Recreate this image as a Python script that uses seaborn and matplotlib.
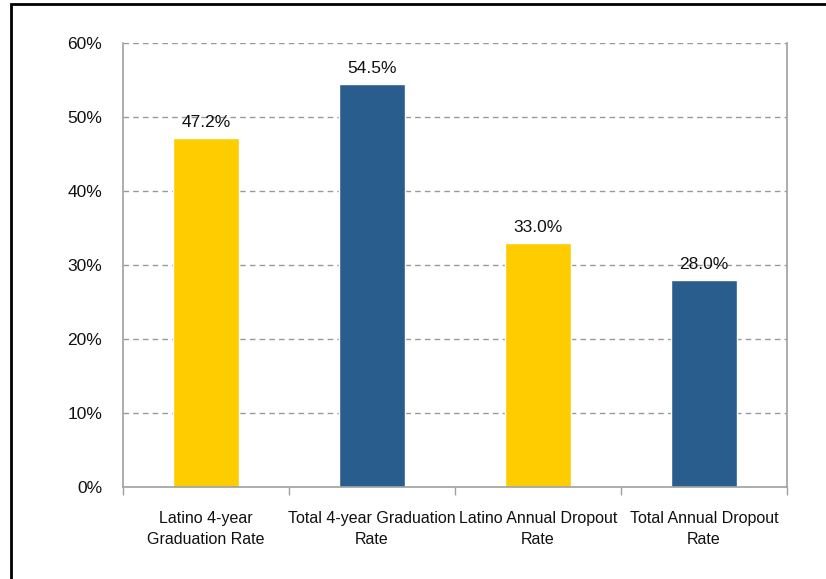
import matplotlib
matplotlib.use("Agg")
import matplotlib.pyplot as plt
import matplotlib.patches as mpatches
from matplotlib.ticker import PercentFormatter, FixedLocator
import pandas as pd
import seaborn as sns

# datos
categories = [
    "Latino 4-year\nGraduation Rate",
    "Total 4-year Graduation\nRate",
    "Latino Annual Dropout\nRate",
    "Total Annual Dropout\nRate",
]
rates = [0.472, 0.545, 0.330, 0.280]
labels = ["47.2%", "54.5%", "33.0%", "28.0%"]
bar_colors = ["#FFCC00", "#285D8E", "#FFCC00", "#285D8E"]

df = pd.DataFrame({"category": categories, "rate": rates})

sns.set_style("white")
plt.rcParams["font.family"] = ["Liberation Sans", "DejaVu Sans"]

fig = plt.figure(figsize=(8.26, 5.79), dpi=100)
ax = fig.add_axes([123 / 826, 1 - 487 / 579, (787 - 123) / 826, (487 - 43) / 579])

sns.barplot(data=df, x="category", y="rate", hue="category", palette=bar_colors,
            legend=False, width=0.4, saturation=1, ax=ax)

for p, lab in zip(ax.patches, labels):
    ax.text(p.get_x() + p.get_width() / 2, p.get_height() + 0.011, lab,
            ha="center", va="bottom", fontsize=12.5, color="#111111")

ax.set_ylim(0, 0.6)
ax.set_xlim(-0.5, 3.5)
ax.yaxis.set_major_formatter(PercentFormatter(1.0, decimals=0))
ax.set_yticks([0, 0.1, 0.2, 0.3, 0.4, 0.5, 0.6])
ax.yaxis.grid(True, linestyle=(0, (4, 3)), color="#999999", linewidth=1)
ax.set_axisbelow(True)
ax.set_xlabel("")
ax.set_ylabel("")

# ticks entre categorias
ax.xaxis.set_major_locator(FixedLocator([0, 1, 2, 3]))
ax.xaxis.set_minor_locator(FixedLocator([-0.5, 0.5, 1.5, 2.5, 3.5]))
ax.tick_params(axis="x", which="major", length=0, labelsize=11.5, pad=17)
ax.tick_params(axis="x", which="minor", length=6, width=1, color="#A0A0A0", direction="out")
ax.tick_params(axis="y", length=6, width=1, color="#A0A0A0", labelsize=12.5, pad=9, direction="out")
for t in ax.get_xticklabels():
    t.set_color("#111111")
    t.set_linespacing(1.55)
plt.setp(ax.get_yticklabels(), color="#111111")
ax.tick_params(axis="x", which="both", bottom=True)

for side in ["left", "bottom", "right"]:
    ax.spines[side].set_visible(True)
    ax.spines[side].set_color("#A0A0A0")
    ax.spines[side].set_linewidth(1.2)
ax.spines["top"].set_visible(False)

# marco negro de la figura
frame = mpatches.Rectangle((11 / 826, -0.1), 1.2, 1 - 4 / 579 + 0.1, transform=fig.transFigure,
                           fill=False, edgecolor="black", linewidth=2, clip_on=False)
fig.patches.append(frame)

plt.savefig("out.png", dpi=100)
